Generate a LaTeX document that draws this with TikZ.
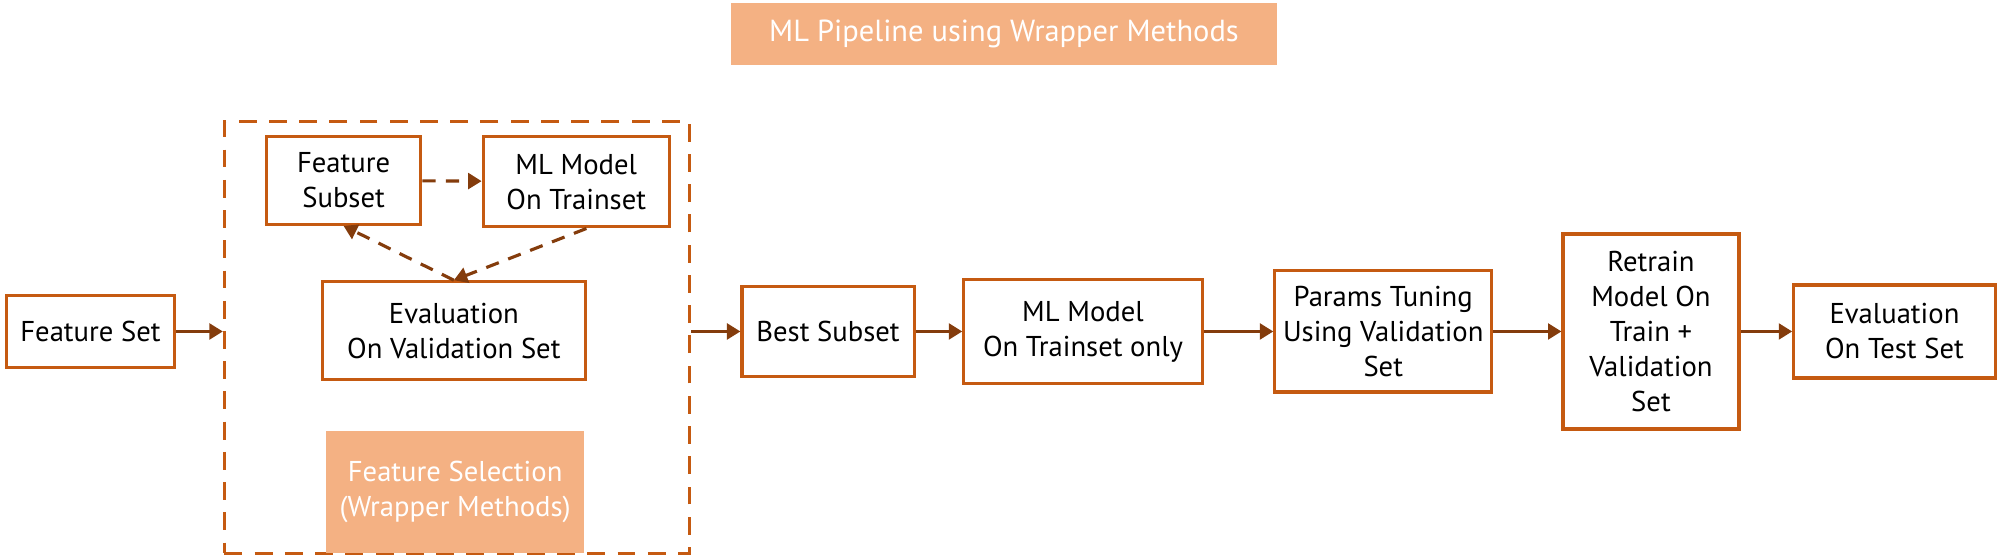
\documentclass[tikz,border=0pt]{standalone}
\usepackage{fontspec}
\setmainfont{PT Sans}
\usetikzlibrary{arrows.meta}
\definecolor{boxline}{HTML}{C55A11}
\definecolor{arrowline}{HTML}{843C0C}
\definecolor{tagfill}{HTML}{F4B183}

\begin{document}
\begin{tikzpicture} [x=0.02cm, y=-0.02cm, font=\fontsize{12.8}{15.6}\selectfont,
                    step node/.style={draw=boxline,line width=1.4pt,align=center,inner sep=2pt},
                    tag node/.style={fill=tagfill,text=white,align=center},
                    flow/.style={draw=arrowline,line width=1.4pt,-{Triangle[length=6pt,width=7pt]}},
                    loop flow/.style={flow,dash pattern=on 6pt off 4.5pt}]
    \useasboundingbox (0,0) rectangle (1568,436);

    \node[tag node,font=\fontsize{13.6}{16}\selectfont,minimum width=8.58cm,minimum height=0.98cm] (title) at (787.5,26.5) {ML Pipeline using Wrapper Methods};

    % wrapper loop
    \node[draw=boxline,line width=1.4pt,dash pattern=on 8pt off 5.5pt,minimum width=7.3cm,minimum height=6.78cm] (wrap) at (358.5,264.5) {};
    \node[step node,minimum width=2.42cm,minimum height=1.38cm] (sub) at (269.5,141.5) {Feature\\Subset};
    \node[step node,minimum width=2.92cm,minimum height=1.42cm] (mlm) at (452,142.5) {ML Model\\On Trainset};
    \node[step node,minimum width=4.12cm,minimum height=1.54cm] (evv) at (356,259.5) {Evaluation\\On Validation Set};
    \node[tag node,minimum width=4.04cm,minimum height=1.92cm] (fsel) at (357,386) {Feature Selection\\(Wrapper Methods)};

    % main row
    \node[step node,minimum width=2.64cm,minimum height=1.12cm] (fs) at (71,260) {Feature Set};
    \node[step node,minimum width=2.7cm,minimum height=1.42cm] (best) at (649.5,260) {Best Subset};
    \node[step node,minimum width=3.74cm,minimum height=1.64cm] (mlo) at (849.5,260) {ML Model\\On Trainset only};
    \node[step node,minimum width=3.4cm,minimum height=1.9cm] (par) at (1085,260) {Params Tuning\\Using Validation\\Set};
    \node[step node,minimum width=2.76cm,minimum height=3.06cm] (ret) at (1295,260) {Retrain\\Model On\\Train +\\Validation\\Set};
    \node[step node,minimum width=3.16cm,minimum height=1.46cm] (evt) at (1486,260) {Evaluation\\On Test Set};

    \path[every edge/.style={loop flow}]
    (sub) edge (mlm)
    ([xshift=0.16cm]mlm.south) edge (evv.north)
    (evv.north) edge (sub.south);

    \path[every edge/.style={flow}]
    (fs.east) edge (fs.east -| wrap.west)
    (wrap.east |- best.west) edge (best.west)
    (best) edge (mlo)
    (mlo) edge (par)
    (par) edge (ret)
    (ret) edge (evt);
\end{tikzpicture}
\end{document}
